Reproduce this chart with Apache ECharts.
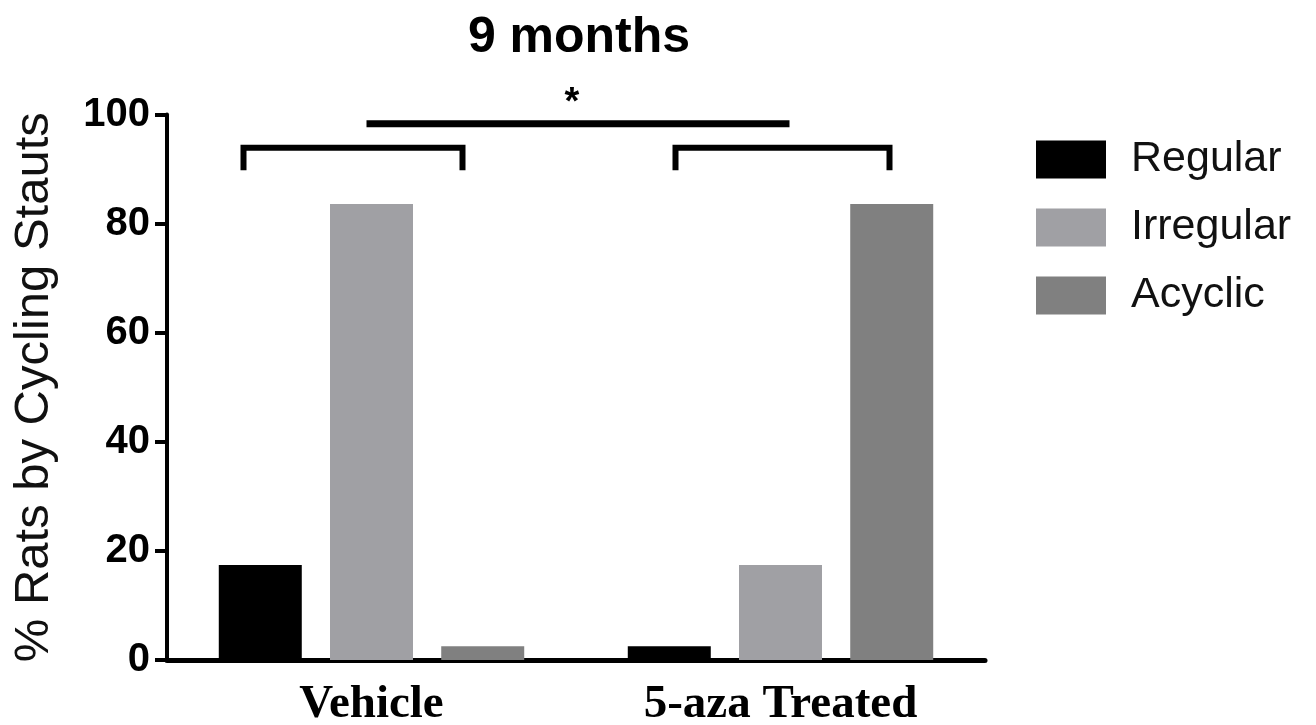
<!DOCTYPE html>
<html>
<head>
<meta charset="utf-8">
<title>9 months</title>
<script src="https://cdn.jsdelivr.net/npm/echarts@6/dist/echarts.min.js"></script>
<style>
  html, body { margin: 0; padding: 0; background: #fff; }
  #chart { width: 1316px; height: 725px; }
</style>
</head>
<body>
<div id="chart"></div>
<script>
// Cycling status of rats at 9 months, by treatment group
const groups = ['Vehicle', '5-aza Treated'];
const statusNames = ['Regular', 'Irregular', 'Acyclic'];
const regular = [17.4, 2.5];
const irregular = [83.6, 17.4];
const acyclic = [2.5, 83.6];
const yTicks = [0, 20, 40, 60, 80, 100];

const colors = { Regular: '#000000', Irregular: '#a0a0a4', Acyclic: '#808080' };

const chart = echarts.init(document.getElementById('chart'), null, { renderer: 'canvas' });

// Significance brackets (y levels in data units)
const bracketTop = 93.9;
const bracketFoot = 89.8;
const acrossLevel = 98.3;
const starLevel = 102.0;

function renderBrackets(params, api) {
  const v = api.coord([0, bracketTop]);
  const a = api.coord([1, bracketTop]);
  const foot = api.coord([0, bracketFoot])[1];
  const across = api.coord([0, acrossLevel])[1];
  const star = api.coord([0, starLevel])[1];
  const lineStyle = { stroke: '#000', lineWidth: 6, fill: null, lineJoin: 'miter', lineCap: 'butt' };
  const leftX0 = v[0] - 128, leftX1 = v[0] + 91;
  const rightX0 = a[0] - 105, rightX1 = a[0] + 109;
  return {
    type: 'group',
    children: [
      { type: 'polyline', shape: { points: [[leftX0, foot], [leftX0, v[1]], [leftX1, v[1]], [leftX1, foot]] }, style: lineStyle },
      { type: 'polyline', shape: { points: [[rightX0, foot], [rightX0, a[1]], [rightX1, a[1]], [rightX1, foot]] }, style: lineStyle },
      { type: 'line', shape: { x1: v[0] - 5, y1: across, x2: a[0] + 9, y2: across }, style: { stroke: '#000', lineWidth: 7 } },
      { type: 'text', x: (v[0] + a[0]) / 2 - 4, y: star, style: { text: '*', fill: '#000', font: 'bold 38px "Liberation Sans", Arial, sans-serif', align: 'center', verticalAlign: 'middle' } }
    ]
  };
}

const option = {
  backgroundColor: '#ffffff',
  animation: false,
  title: {
    text: '9 months',
    left: 574,
    top: 8,
    textAlign: 'center',
    textStyle: { fontFamily: '"Liberation Sans", Arial, sans-serif', fontWeight: 'bold', fontSize: 50, color: '#000' }
  },
  legend: {
    orient: 'vertical',
    left: 1031,
    top: 133,
    itemWidth: 70,
    itemHeight: 38,
    itemGap: 25,
    icon: 'rect',
    data: statusNames,
    textStyle: { fontFamily: '"Liberation Sans", Arial, sans-serif', fontSize: 43, color: '#111', lineHeight: 38, padding: [0, 0, 0, 20] }
  },
  grid: { left: 167, right: 331, top: 114.5, bottom: 65, containLabel: false, outerBoundsMode: 'none' },
  xAxis: {
    type: 'category',
    data: groups,
    axisLine: { lineStyle: { color: '#000', width: 5 } },
    axisTick: { show: false },
    axisLabel: { margin: 21, color: '#000', fontFamily: '"Liberation Serif", "Times New Roman", serif', fontWeight: 'bold', fontSize: 47 }
  },
  yAxis: {
    type: 'value',
    min: 0,
    max: 100,
    interval: 20,
    name: '% Rats by Cycling Stauts',
    nameLocation: 'middle',
    nameGap: 108,
    nameTextStyle: { fontFamily: '"Liberation Sans", Arial, sans-serif', fontSize: 49, color: '#111' },
    axisLine: { show: true, lineStyle: { color: '#000', width: 4 } },
    axisTick: { show: true, length: 12, lineStyle: { color: '#000', width: 4 } },
    splitLine: { show: false },
    axisLabel: {
      margin: 17, color: '#000', fontFamily: '"Liberation Sans", Arial, sans-serif', fontWeight: 'bold', fontSize: 40,
      formatter: (val) => yTicks.includes(val) ? String(val) : ''
    }
  },
  series: [
    { name: 'Regular', type: 'bar', data: regular, barWidth: 83, barGap: '34%', itemStyle: { color: colors.Regular } },
    { name: 'Irregular', type: 'bar', data: irregular, barWidth: 83, barGap: '34%', itemStyle: { color: colors.Irregular } },
    { name: 'Acyclic', type: 'bar', data: acyclic, barWidth: 83, barGap: '34%', itemStyle: { color: colors.Acyclic } },
    { name: 'significance', type: 'custom', data: [[0, 0]], renderItem: renderBrackets, silent: true, clip: false, z: 5 }
  ]
};

chart.setOption(option);
</script>
</body>
</html>
